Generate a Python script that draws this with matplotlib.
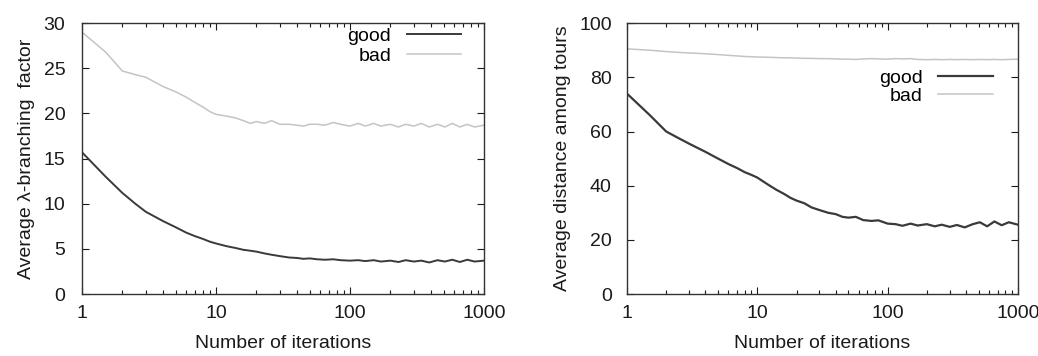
import matplotlib
matplotlib.use("Agg")
import matplotlib.pyplot as plt
from matplotlib.ticker import LogLocator, NullFormatter, FixedLocator

plt.rcParams['font.family'] = ['Liberation Sans', 'DejaVu Sans']

# Iteraciones (eje x logarítmico)
ITERS = [1, 1.5, 2, 2.5, 3, 4, 5, 6, 7, 8, 9, 10, 12, 14, 16, 18, 20, 23, 26, 30,
         35, 40, 45, 50, 57, 65, 75, 85, 100, 115, 130, 150, 170, 200, 230, 260,
         300, 340, 390, 450, 510, 580, 660, 750, 850, 1000]

# Panel izquierdo: factor de ramificación lambda
BRANCH_GOOD = [15.7, 13.0, 11.2, 10.0, 9.1, 8.1, 7.4, 6.8, 6.4, 6.1, 5.8, 5.6, 5.3,
               5.1, 4.9, 4.8, 4.7, 4.5, 4.35, 4.2, 4.05, 4.0, 3.9, 3.95, 3.85, 3.8,
               3.85, 3.75, 3.7, 3.75, 3.65, 3.75, 3.6, 3.7, 3.55, 3.75, 3.6, 3.7,
               3.5, 3.75, 3.6, 3.8, 3.55, 3.8, 3.6, 3.7]
BRANCH_BAD = [29.0, 26.8, 24.7, 24.3, 24.0, 23.0, 22.4, 21.8, 21.2, 20.7, 20.2, 19.9,
              19.7, 19.5, 19.2, 18.9, 19.1, 18.9, 19.2, 18.8, 18.8, 18.7, 18.6, 18.8,
              18.8, 18.7, 19.0, 18.8, 18.6, 18.9, 18.6, 18.9, 18.6, 18.8, 18.5, 18.8,
              18.6, 18.9, 18.5, 18.8, 18.5, 18.9, 18.5, 18.8, 18.5, 18.7]

# Panel derecho: distancia media entre tours
DIST_GOOD = [74.0, 66.0, 60.0, 57.5, 55.5, 52.5, 50.0, 48.0, 46.5, 45.0, 44.0, 43.0,
             40.5, 38.5, 37.0, 35.5, 34.5, 33.5, 32.0, 31.0, 30.0, 29.5, 28.5, 28.2,
             28.5, 27.3, 27.0, 27.2, 26.0, 25.8, 25.2, 26.0, 25.3, 25.8, 25.0, 25.6,
             24.8, 25.5, 24.6, 25.8, 26.5, 25.0, 26.8, 25.4, 26.5, 25.6]
DIST_BAD = [90.5, 90.0, 89.5, 89.2, 89.0, 88.7, 88.4, 88.1, 87.9, 87.7, 87.6, 87.5,
            87.4, 87.3, 87.2, 87.2, 87.1, 87.0, 87.0, 86.9, 86.9, 86.8, 86.7, 86.7,
            86.6, 86.8, 86.9, 86.8, 86.7, 86.9, 86.8, 86.9, 86.6, 86.5, 86.6, 86.5,
            86.6, 86.5, 86.6, 86.5, 86.6, 86.5, 86.6, 86.5, 86.6, 86.7]

LABELS = ["good", "bad"]
FS = 14
C_TXT = '#1a1a1a'
C_GOOD = '#3a3a3a'
C_BAD = '#c4c4c4'


def estilo(ax, ymax, ystep, ylabel, ypad):
    ax.set_xscale('log')
    ax.set_xlim(1, 1000)
    ax.set_ylim(0, ymax)
    ax.xaxis.set_major_locator(FixedLocator([1, 10, 100, 1000]))
    ax.set_xticklabels(["1", "10", "100", "1000"])
    ax.xaxis.set_minor_locator(LogLocator(base=10, subs=range(2, 10)))
    ax.xaxis.set_minor_formatter(NullFormatter())
    ax.set_yticks(range(0, ymax + 1, ystep))
    ax.tick_params(which='both', direction='in', top=True, right=True,
                   labelsize=FS, colors=C_TXT)
    ax.tick_params(axis='y', pad=ypad)
    ax.tick_params(axis='x', pad=8)
    ax.tick_params(which='major', length=5, width=0.8)
    ax.tick_params(which='minor', length=3, width=0.8)
    for s in ax.spines.values():
        s.set_color('#333333')
        s.set_linewidth(1.0)
    ax.set_xlabel("Number of iterations", fontsize=FS, color=C_TXT, labelpad=9)
    ax.set_ylabel(ylabel, fontsize=FS, color=C_TXT, labelpad=6)


fig = plt.figure(figsize=(10.38, 3.56), dpi=100)
ax1 = fig.add_axes([0.079, 0.174, 0.3873, 0.761])
ax2 = fig.add_axes([0.604, 0.174, 0.3767, 0.761])

l1, = ax1.plot(ITERS, BRANCH_GOOD, color=C_GOOD, lw=1.4)
l2, = ax1.plot(ITERS, BRANCH_BAD, color=C_BAD, lw=1.1)
estilo(ax1, 30, 5, "Average \u03bb-branching  factor", 12)
ax1.legend([l1, l2], LABELS, loc='upper right', bbox_to_anchor=(0.943, 0.985),
           frameon=False, markerfirst=False, fontsize=FS, handlelength=2.8,
           handletextpad=0.8, labelspacing=0.12, borderpad=0, borderaxespad=0)

m1, = ax2.plot(ITERS, DIST_GOOD, color=C_GOOD, lw=1.6)
m2, = ax2.plot(ITERS, DIST_BAD, color=C_BAD, lw=1.1)
estilo(ax2, 100, 20, "Average distance among tours", 11)
ax2.legend([m1, m2], LABELS, loc='upper right', bbox_to_anchor=(0.936, 0.83),
           frameon=False, markerfirst=False, fontsize=FS, handlelength=2.8,
           handletextpad=0.8, labelspacing=0.02, borderpad=0, borderaxespad=0)

fig.savefig("out.png", dpi=100)
